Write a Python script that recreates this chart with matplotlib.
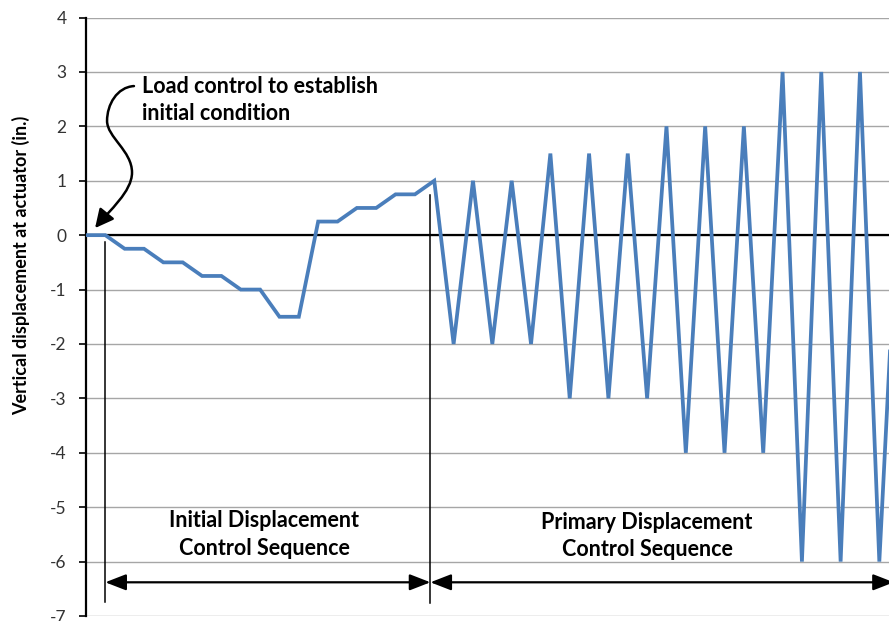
import matplotlib
matplotlib.use("Agg")
import matplotlib.pyplot as plt
from matplotlib.path import Path
from matplotlib.patches import FancyArrowPatch

# Actuator displacement protocol (in.), one value per load step
initial_steps = [0, 0, -0.25, -0.25, -0.5, -0.5, -0.75, -0.75, -1, -1,
                 -1.5, -1.5, 0.25, 0.25, 0.5, 0.5, 0.75, 0.75, 1]
primary_steps = [-2, 1, -2, 1, -2, 1.5, -3, 1.5, -3, 1.5, -3,
                 2, -4, 2, -4, 2, -4, 3, -6, 3, -6, 3, -6, 1]
displacement = initial_steps + primary_steps
step = list(range(len(displacement)))

y_ticks = [4, 3, 2, 1, 0, -1, -2, -3, -4, -5, -6, -7]
y_label = "Vertical displacement at actuator (in.)"
note_text = "Load control to establish\ninitial condition"
initial_label = "Initial Displacement\nControl Sequence"
primary_label = "Primary Displacement\nControl Sequence"

plt.rcParams["font.family"] = ["Lato", "DejaVu Sans"]

fig = plt.figure(figsize=(8.89, 6.21), dpi=100)
ax = fig.add_axes([0.0967, 0.008, 0.9033, 0.9638])

ax.set_xlim(0, 41.5)
ax.set_ylim(-7, 4)
ax.set_yticks(y_ticks)
ax.set_yticklabels([str(t) for t in y_ticks])
ax.set_xticks([])

for s in ["top", "right", "bottom"]:
    ax.spines[s].set_visible(False)
ax.spines["left"].set_linewidth(1.6)
ax.spines["left"].set_color("black")
ax.tick_params(axis="y", direction="out", length=5, width=1.2, pad=9,
               labelsize=12.5, labelcolor="#333333", color="black")

ax.yaxis.grid(True, color="#A6A6A6", linewidth=1.0)
ax.set_axisbelow(True)
ax.axhline(0, color="black", linewidth=1.6, zorder=2)

ax.plot(step, displacement, color="#4A7EBB", linewidth=2.7, zorder=3,
        solid_joinstyle="miter")

ax.set_ylabel(y_label, fontsize=13, fontweight="bold",
              family=["Liberation Sans Narrow", "Lato"])
ax.yaxis.set_label_coords(-0.070, 0.586)

# Sequence boundaries
split = 17.8
ax.plot([1, 1], [-0.13, -6.75], color="black", linewidth=1.1, zorder=4)
ax.plot([split, split], [0.735, -6.76], color="black", linewidth=1.1, zorder=4)

arrow_y = -6.38
for x0, x1 in [(1, split), (split, 41.75)]:
    ax.add_patch(FancyArrowPatch((x0, arrow_y), (x1, arrow_y),
                                 arrowstyle="<|-|>,head_length=0.9,head_width=0.35",
                                 mutation_scale=14, color="black",
                                 linewidth=1.6, shrinkA=0, shrinkB=0,
                                 zorder=4))

ax.text(9.2, -5.5, initial_label, ha="center", va="center",
        fontsize=15.5, fontweight="bold", linespacing=1.38)
ax.text(29.0, -5.53, primary_label, ha="center", va="center",
        fontsize=15.5, fontweight="bold", linespacing=1.38)

ax.text(2.9, 2.48, note_text, ha="left", va="center", fontsize=15.5,
        fontweight="bold", linespacing=1.38)

# Curved leader from the note down to the starting point
verts = [(2.48, 2.74),
         (1.6, 2.72), (1.09, 2.4), (1.09, 2.1),
         (1.09, 1.8), (2.38, 1.55), (2.38, 1.15),
         (2.38, 0.8), (1.2, 0.45), (0.47, 0.13)]
codes = [Path.MOVETO] + [Path.CURVE4] * 9
ax.add_patch(FancyArrowPatch(path=Path(verts, codes),
                             arrowstyle="-|>,head_length=0.8,head_width=0.4",
                             mutation_scale=14, color="black",
                             linewidth=1.8, zorder=5))

fig.savefig("out.png", dpi=100)
